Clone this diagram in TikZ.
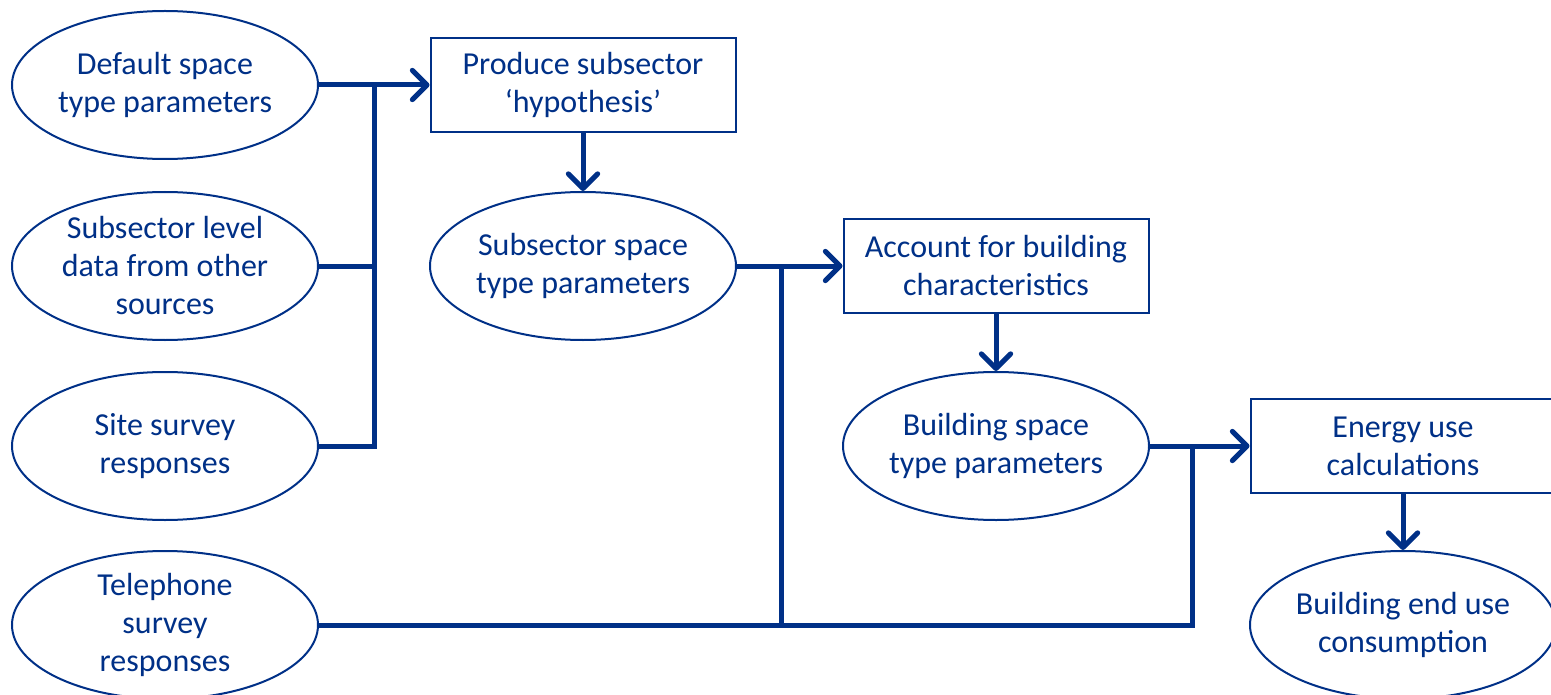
\documentclass[tikz,border=0pt]{standalone}
\usepackage{fontspec}
\setmainfont{Carlito}
\usepackage{tikz}
\usetikzlibrary{positioning,shapes.geometric,arrows.meta}
\usepackage{xcolor}
\definecolor{navy}{RGB}{0,48,135}
\tikzset{every picture/.style={line width=0.75pt}}

\begin{document}
\begin{tikzpicture}[x=0.75pt,y=0.75pt,yscale=-1,xscale=1,
  font=\fontsize{24}{28.5}\selectfont, text=navy,
  blob/.style={draw=navy,line width=1.5pt,ellipse,minimum width=229.5pt,minimum height=111pt,inner sep=0pt,align=center},
  stepbox/.style={draw=navy,line width=1.5pt,rectangle,minimum width=228.75pt,minimum height=70.5pt,inner sep=0pt,align=center},
  conn/.style={draw=navy,line width=3.75pt,line join=miter},
  flow/.style={conn,-{Straight Barb[length=11pt,width=22pt,line width=3.75pt,round]}}]
\useasboundingbox (0,0) rectangle (1551,695);

%Inputs
\node [blob] (def) at (165,85) {Default space\\type parameters};
\node [blob] (oth) at (165,266) {Subsector level\\data from other\\sources};
\node [blob] (site) at (165,446) {Site survey\\responses};
\node [blob] (tel) at (165,625) {Telephone\\survey\\responses};

%Steps
\node [stepbox] (hyp) at (583,85) {Produce subsector\\‘hypothesis’};
\node [blob] (subp) at (583,266) {Subsector space\\type parameters};
\node [stepbox] (acc) at (996,266) {Account for building\\characteristics};
\node [blob] (bldp) at (996,446) {Building space\\type parameters};
\node [stepbox] (calc) at (1403,446) {Energy use\\calculations};
\node [blob] (cons) at (1403,625) {Building end use\\consumption};

%Bus points
\coordinate (jA) at (374,85);
\coordinate (jB) at (374,266);
\coordinate (jC) at (374,446);
\coordinate (jD) at (781,266);
\coordinate (jE) at (781,625);
\coordinate (jF) at (1192,446);
\coordinate (jG) at (1192,625);

%Connectors
\draw [flow] (def.east) -- (hyp.west);
\draw [conn] (site.east) -- (jC) -- (jA);
\draw [conn] (oth.east) -- (jB);
\draw [flow] (hyp.south) -- (subp.north);
\draw [flow] (subp.east) -- (acc.west);
\draw [conn] (jD) -- (jE);
\draw [flow] (acc.south) -- (bldp.north);
\draw [flow] (bldp.east) -- (calc.west);
\draw [conn] (tel.east) -- (jG) -- (jF);
\draw [flow] (calc.south) -- (cons.north);

\end{tikzpicture}
\end{document}
